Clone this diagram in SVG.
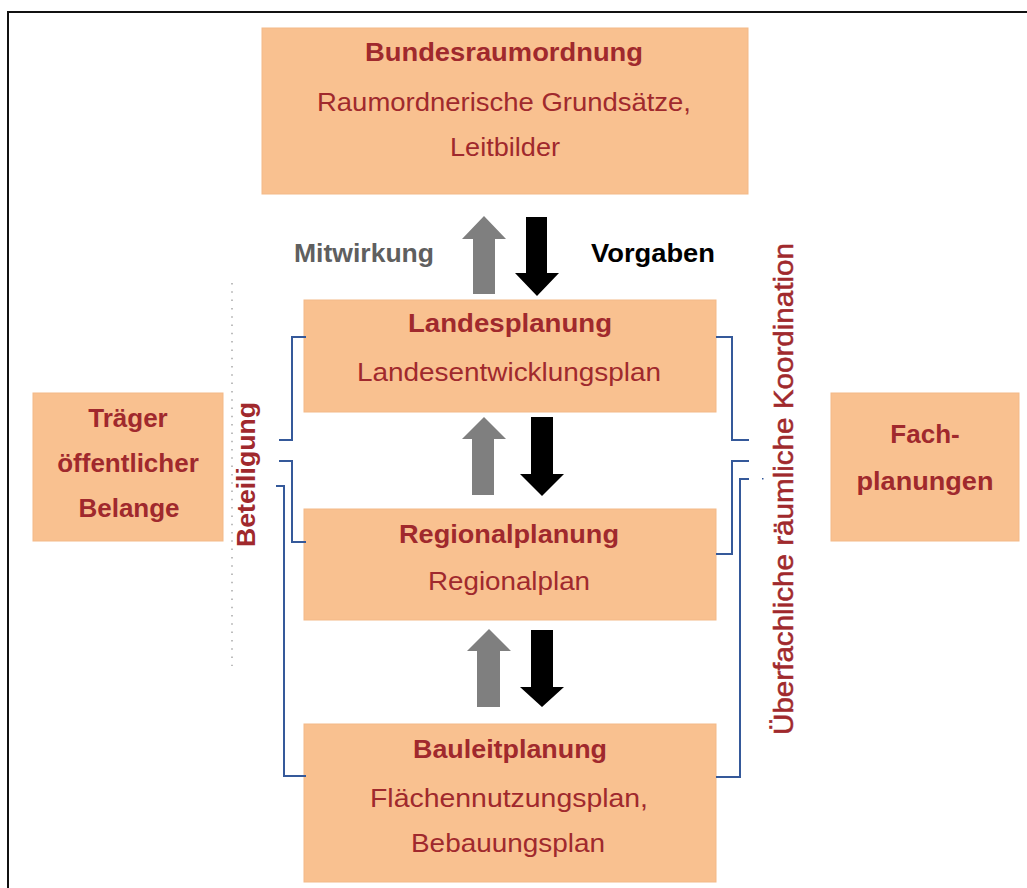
<svg xmlns="http://www.w3.org/2000/svg" width="1027" height="888" viewBox="0 0 1027 888">
<style>
.box{fill:#F9C190;stroke:#F3B988;stroke-width:1}
.t{font-family:"Liberation Sans",Arial,sans-serif;fill:#A0292D;text-anchor:middle}
.b{font-weight:bold;font-size:26px}
.r{font-size:25px}
.br{fill:none;stroke:#35599A;stroke-width:2}
.up{fill:#7F7F7F}
.dn{fill:#000}
</style>
<rect width="1027" height="888" fill="#fff"/>
<path d="M8,888 V12 H1027" fill="none" stroke="#111" stroke-width="2"/>

<g id="bundesraumordnung">
<rect class="box" x="262" y="28" width="486" height="166"/>
<text class="t b" x="504" y="61" textLength="278" lengthAdjust="spacingAndGlyphs">Bundesraumordnung</text>
<text class="t r" x="504" y="111" textLength="374" lengthAdjust="spacingAndGlyphs">Raumordnerische Grundsätze,</text>
<text class="t r" x="505" y="156" textLength="110" lengthAdjust="spacingAndGlyphs">Leitbilder</text>
</g>

<g id="landesplanung">
<rect class="box" x="304" y="300" width="412" height="112"/>
<text class="t b" x="510" y="332" textLength="204" lengthAdjust="spacingAndGlyphs">Landesplanung</text>
<text class="t r" x="509" y="381" textLength="304" lengthAdjust="spacingAndGlyphs">Landesentwicklungsplan</text>
</g>

<g id="regionalplanung">
<rect class="box" x="304" y="509" width="412" height="111"/>
<text class="t b" x="509" y="543" textLength="220" lengthAdjust="spacingAndGlyphs">Regionalplanung</text>
<text class="t r" x="509" y="590" textLength="162" lengthAdjust="spacingAndGlyphs">Regionalplan</text>
</g>

<g id="bauleitplanung">
<rect class="box" x="304" y="724" width="412" height="158"/>
<text class="t b" x="510" y="758" textLength="194" lengthAdjust="spacingAndGlyphs">Bauleitplanung</text>
<text class="t r" x="509" y="807" textLength="278" lengthAdjust="spacingAndGlyphs">Flächennutzungsplan,</text>
<text class="t r" x="508" y="852" textLength="194" lengthAdjust="spacingAndGlyphs">Bebauungsplan</text>
</g>

<g id="traeger">
<rect class="box" x="33" y="393" width="190" height="148"/>
<text class="t b" x="128" y="427">Träger</text>
<text class="t b" x="128" y="472">öffentlicher</text>
<text class="t b" x="129" y="517">Belange</text>
</g>

<g id="fachplanungen">
<rect class="box" x="831" y="393" width="188" height="148"/>
<text class="t b" x="925" y="443">Fach-</text>
<text class="t b" x="925" y="490" textLength="137" lengthAdjust="spacingAndGlyphs">planungen</text>
</g>

<g id="labels">
<text x="364" y="262" font-family="Liberation Sans,Arial,sans-serif" font-weight="bold" font-size="25" fill="#5F5F5F" text-anchor="middle" textLength="140" lengthAdjust="spacingAndGlyphs">Mitwirkung</text>
<text x="653" y="262" font-family="Liberation Sans,Arial,sans-serif" font-weight="bold" font-size="25" fill="#000" text-anchor="middle" textLength="124" lengthAdjust="spacingAndGlyphs">Vorgaben</text>
<text class="t b" transform="translate(255,474.5) rotate(-90)" x="0" y="0" textLength="145" lengthAdjust="spacingAndGlyphs">Beteiligung</text>
<text class="t" font-size="27" stroke="#A0292D" stroke-width="0.5" transform="translate(793,489) rotate(-90)" x="0" y="0" textLength="492" lengthAdjust="spacingAndGlyphs">Überfachliche räumliche Koordination</text>
</g>

<g id="connectors">
<line x1="232" y1="283" x2="232" y2="666" stroke="#A8A8A8" stroke-width="1.5" stroke-dasharray="1.5 6.8"/>
<path class="br" d="M306,337 H292 V440 H279"/>
<path class="br" d="M279,461 H292 V542 H306"/>
<path class="br" d="M276,486 H284 V776 H306"/>
<path class="br" d="M716,337 H732 V440 H749"/>
<path class="br" d="M749,461 H732 V554 H716"/>
<path class="br" d="M749,479 H740 V777 H716"/>
<rect x="762" y="478" width="1.5" height="1.5" fill="#35599A"/>
<polygon class="up" points="484,216 506,239 495,239 495,294 473,294 473,239 462,239"/>
<polygon class="dn" points="526,217 547,217 547,273 559,273 537,296 515,273 526,273"/>
<polygon class="up" points="484,417 506,439 494,439 494,495 472,495 472,439 462,439"/>
<polygon class="dn" points="531,417 553,417 553,474 564,474 542,496 520,474 531,474"/>
<polygon class="up" points="489,629 511,651 500,651 500,707 477,707 477,651 467,651"/>
<polygon class="dn" points="531,630 553,630 553,687 564,687 542,707 520,687 531,687"/>
</g>
</svg>
